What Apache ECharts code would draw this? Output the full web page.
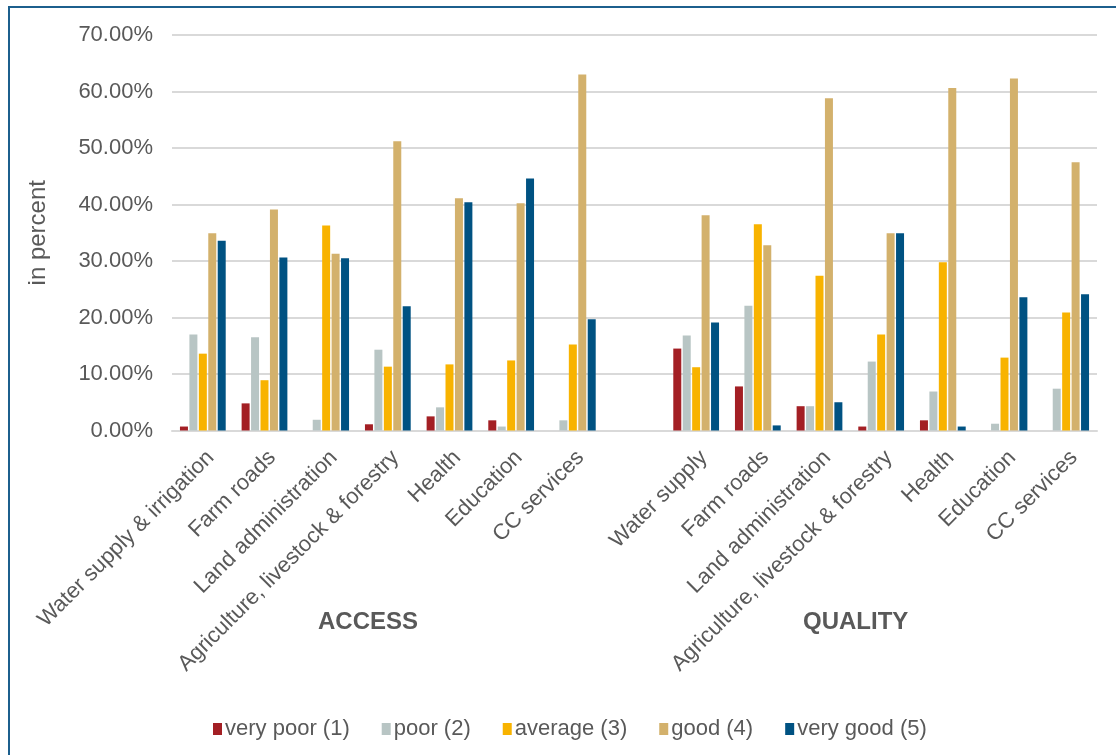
<!DOCTYPE html>
<html>
<head>
<meta charset="utf-8">
<script src="https://cdn.jsdelivr.net/npm/echarts@6/dist/echarts.min.js"></script>
<style>
  html, body { margin: 0; padding: 0; background: #fff; }
  #frame { position: absolute; left: 8px; top: 6px; width: 1120px; height: 760px;
    border-left: 2px solid #1c5f8d; border-top: 2px solid #1c5f8d; }
  #chart { position: absolute; left: 0; top: 0; width: 1116px; height: 755px; }
</style>
</head>
<body>
<div id="frame"></div>
<div id="chart"></div>
<script>
// categories: 7 access items, an empty spacer, 7 quality items
const categories = [
  "Water supply & irrigation", "Farm roads", "Land administration",
  "Agriculture, livestock & forestry", "Health", "Education", "CC services",
  "",
  "Water supply", "Farm roads", "Land administration",
  "Agriculture, livestock & forestry", "Health", "Education", "CC services",
];
const seriesNames = ["very poor (1)", "poor (2)", "average (3)", "good (4)", "very good (5)"];
const seriesColors = ["#a31f24", "#b8c5c4", "#f8b300", "#d3b16c", "#005282"];

// values in percent
const veryPoor = [0.7, 4.8, 0, 1.1, 2.5, 1.8, 0, null, 14.5, 7.8, 4.3, 0.7, 1.8, 0, 0];
const poor     = [17.0, 16.5, 1.9, 14.3, 4.1, 0.7, 1.8, null, 16.8, 22.1, 4.3, 12.2, 6.9, 1.2, 7.4];
const average  = [13.6, 8.9, 36.3, 11.3, 11.7, 12.4, 15.2, null, 11.2, 36.5, 27.4, 17.0, 29.8, 12.9, 20.9];
const good     = [34.9, 39.1, 31.3, 51.2, 41.1, 40.2, 63.0, null, 38.1, 32.8, 58.8, 34.9, 60.6, 62.3, 47.5];
const veryGood = [33.6, 30.6, 30.5, 22.0, 40.4, 44.6, 19.7, null, 19.1, 0.9, 5.0, 34.9, 0.7, 23.6, 24.1];
const allValues = [veryPoor, poor, average, good, veryGood];

const textColor = "#595959";
const font = "Liberation Sans, Arial, sans-serif";

const chart = echarts.init(document.getElementById("chart"));
chart.setOption({
  animation: false,
  textStyle: { fontFamily: font },
  grid: { left: 172, right: 19, top: 35, bottom: 324.5, containLabel: false },
  legend: {
    bottom: 10,
    left: 208,
    icon: "rect",
    itemWidth: 9,
    itemHeight: 12,
    itemGap: 32,
    textStyle: { color: textColor, fontSize: 22, fontFamily: font, padding: [0, 0, 0, -2] },
    data: seriesNames,
  },
  xAxis: {
    type: "category",
    data: categories,
    axisLine: { lineStyle: { color: "#d9d9d9", width: 2 } },
    axisTick: { show: false },
    axisLabel: {
      interval: 0,
      rotate: 45,
      margin: 16,
      verticalAlign: "top",
      color: textColor,
      fontSize: 22,
      fontFamily: font,
    },
  },
  yAxis: {
    type: "value",
    min: 0,
    max: 70,
    interval: 10,
    name: "in percent",
    nameLocation: "middle",
    nameGap: 122,
    nameTextStyle: { color: textColor, fontSize: 24, fontFamily: font },
    axisLine: { show: false },
    axisTick: { show: false },
    axisLabel: {
      color: textColor,
      fontSize: 22,
      fontFamily: font,
      margin: 19,
      formatter: (v) => v.toFixed(2) + "%",
    },
    splitLine: { lineStyle: { color: "#d9d9d9", width: 2 } },
  },
  graphic: [
    { type: "text", left: 318, top: 610, style: { text: "ACCESS", fill: textColor,
      font: "bold 24px " + font } },
    { type: "text", left: 803, top: 610, style: { text: "QUALITY", fill: textColor,
      font: "bold 24px " + font } },
  ],
  series: seriesNames.map((name, i) => ({
    name: name,
    type: "bar",
    data: allValues[i],
    barWidth: 8,
    barGap: "18%",
    itemStyle: { color: seriesColors[i] },
  })),
});
</script>
</body>
</html>
